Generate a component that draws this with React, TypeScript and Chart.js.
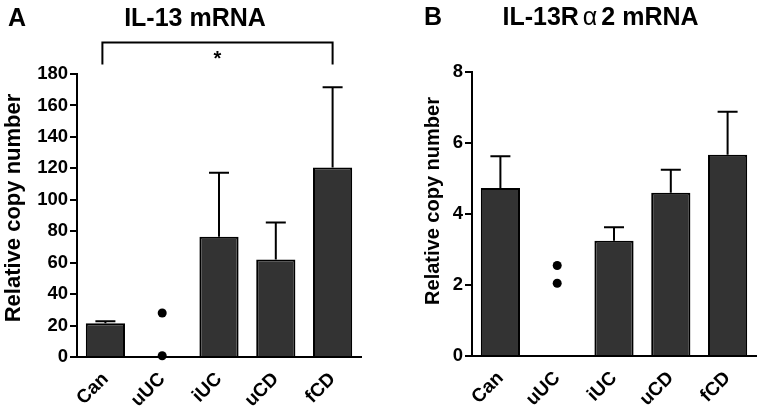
import React, { useEffect, useRef } from 'react';
import { Chart, registerables } from 'chart.js';

Chart.register(...registerables);

// ---------- data ----------
const categories = ['Can', 'uUC', 'iUC', 'uCD', 'fCD'];

const il13Mean = [21.5, null, 76.5, 62, 120.5];
const il13Upper = [22.8, null, 117.2, 85.5, 171.5];
const il13Dots = [28, 0.8];
const il13Axis = { min: 0, max: 180, step: 20 };

const ra2Mean = [4.73, null, 3.25, 4.6, 5.67];
const ra2Upper = [5.63, null, 3.63, 5.25, 6.88];
const ra2Dots = [2.55, 2.05];
const ra2Axis = { min: 0, max: 8, step: 2 };

const dotCategory = 'uUC';
const yTitle = 'Relative copy number';
const sigBracket = { from: 'Can', to: 'fCD', level: 200, leg: 186, label: '*' };

const FONT = 'Arial, "Liberation Sans", sans-serif';

type Panel = {
  letter: string;
  titleParts: { text: string; font: string; gapAfter: number }[];
  titleCenterX: number;
  titleBaseline: number;
  letterX: number;
  mean: (number | null)[];
  upper: (number | null)[];
  dots: number[];
  axis: { min: number; max: number; step: number };
  yAxisWidth: number;
  rightPad: number;
  topPad: number;
  xAxisHeight: number;
  yTitleX: number;
  yTitleY: number;
  yTitleSize: number;
  bracket: boolean;
};

const panels: Panel[] = [
  {
    letter: 'A',
    titleParts: [{ text: 'IL-13 mRNA', font: `bold 25px ${FONT}`, gapAfter: 0 }],
    titleCenterX: 195,
    titleBaseline: 26,
    letterX: 8,
    mean: il13Mean,
    upper: il13Upper,
    dots: il13Dots,
    axis: il13Axis,
    yAxisWidth: 77,
    rightPad: 20,
    topPad: 74,
    xAxisHeight: 54,
    yTitleX: 14,
    yTitleY: 208,
    yTitleSize: 22,
    bracket: true,
  },
  {
    letter: 'B',
    titleParts: [
      { text: 'IL-13R', font: `bold 25px ${FONT}`, gapAfter: 4 },
      { text: 'α', font: `25px ${FONT}`, gapAfter: 4 },
      { text: '2 mRNA', font: `bold 25px ${FONT}`, gapAfter: 0 },
    ],
    titleCenterX: 219.5,
    titleBaseline: 25,
    letterX: 43,
    mean: ra2Mean,
    upper: ra2Upper,
    dots: ra2Dots,
    axis: ra2Axis,
    yAxisWidth: 91,
    rightPad: 6,
    topPad: 72,
    xAxisHeight: 55,
    yTitleX: 52,
    yTitleY: 201,
    yTitleSize: 20,
    bracket: false,
  },
];

function makeDecoPlugin(p: Panel) {
  return {
    id: 'panelDeco',
    afterDatasetsDraw(chart: any) {
      const ctx = chart.ctx;
      const xs = chart.scales.x;
      const ys = chart.scales.y;
      ctx.save();
      ctx.strokeStyle = '#000';
      ctx.lineWidth = 2;
      p.upper.forEach((u, i) => {
        const m = p.mean[i];
        if (u == null || m == null) return;
        const px = xs.getPixelForValue(i);
        const y0 = ys.getPixelForValue(m);
        const y1 = ys.getPixelForValue(u);
        ctx.beginPath();
        ctx.moveTo(px, y0);
        ctx.lineTo(px, y1);
        ctx.moveTo(px - 10, y1);
        ctx.lineTo(px + 10, y1);
        ctx.stroke();
      });
      ctx.restore();
    },
    afterDraw(chart: any) {
      const ctx = chart.ctx;
      const xs = chart.scales.x;
      const ys = chart.scales.y;
      ctx.save();
      ctx.fillStyle = '#000';
      ctx.textBaseline = 'alphabetic';
      // panel letter
      ctx.font = `bold 25px ${FONT}`;
      ctx.textAlign = 'left';
      ctx.fillText(p.letter, p.letterX, p.titleBaseline);
      // title (segments)
      let total = 0;
      p.titleParts.forEach((t) => {
        ctx.font = t.font;
        total += ctx.measureText(t.text).width + t.gapAfter;
      });
      let cx = p.titleCenterX - total / 2;
      p.titleParts.forEach((t) => {
        ctx.font = t.font;
        ctx.fillText(t.text, cx, p.titleBaseline);
        cx += ctx.measureText(t.text).width + t.gapAfter;
      });
      // y title
      ctx.save();
      ctx.translate(p.yTitleX, p.yTitleY);
      ctx.rotate(-Math.PI / 2);
      ctx.font = `bold ${p.yTitleSize}px ${FONT}`;
      ctx.textAlign = 'center';
      ctx.textBaseline = 'middle';
      ctx.fillText(yTitle, 0, 0);
      ctx.restore();
      // significance bracket
      if (p.bracket) {
        const x0 = xs.getPixelForValue(categories.indexOf(sigBracket.from)) - 3;
        const x1 = xs.getPixelForValue(categories.indexOf(sigBracket.to));
        const yl = ys.getPixelForValue(sigBracket.level);
        const yleg = ys.getPixelForValue(sigBracket.leg);
        ctx.strokeStyle = '#000';
        ctx.lineWidth = 2;
        ctx.beginPath();
        ctx.moveTo(x0, yleg);
        ctx.lineTo(x0, yl);
        ctx.lineTo(x1, yl);
        ctx.lineTo(x1, yleg);
        ctx.stroke();
        ctx.font = `bold 20px ${FONT}`;
        ctx.textAlign = 'center';
        ctx.textBaseline = 'alphabetic';
        ctx.fillText(sigBracket.label, (x0 + x1) / 2, yl + 22);
      }
      ctx.restore();
    },
  };
}

function PanelChart({ p, left }: { p: Panel; left: number }) {
  const ref = useRef<HTMLCanvasElement>(null);
  useEffect(() => {
    if (!ref.current) return;
    const chart = new Chart(ref.current, {
      type: 'bar',
      data: {
        labels: categories,
        datasets: [
          {
            type: 'bar',
            data: p.mean as any,
            backgroundColor: '#333333',
            borderColor: '#000000',
            borderWidth: 2,
            barPercentage: 0.69,
            categoryPercentage: 1,
          },
          {
            type: 'line',
            data: p.dots.map((v) => ({ x: dotCategory, y: v })) as any,
            showLine: false,
            pointRadius: 4.5,
            pointBackgroundColor: '#000',
            pointBorderWidth: 0,
            clip: false as any,
          },
        ],
      },
      options: {
        responsive: false,
        animation: false,
        events: [],
        layout: { padding: { left: 0, right: p.rightPad, top: p.topPad, bottom: 0 } },
        plugins: { legend: { display: false }, tooltip: { enabled: false } },
        scales: {
          x: {
            type: 'category',
            offset: true,
            grid: { display: false, drawTicks: false },
            border: { display: true, color: '#000', width: 2 },
            ticks: {
              color: '#000',
              font: { family: FONT, size: 19, weight: 'bold' },
              minRotation: 45,
              maxRotation: 45,
              autoSkip: false,
              padding: 11,
            },
            afterFit: (s: any) => {
              s.height = p.xAxisHeight;
            },
          },
          y: {
            min: p.axis.min,
            max: p.axis.max,
            grid: {
              display: true,
              drawOnChartArea: false,
              drawTicks: true,
              tickLength: 7,
              color: '#000',
              lineWidth: 2,
            },
            border: { display: true, color: '#000', width: 2 },
            ticks: {
              stepSize: p.axis.step,
              color: '#000',
              font: { family: FONT, size: 18.5, weight: 'bold' },
              padding: 2,
            },
            afterFit: (s: any) => {
              s.width = p.yAxisWidth;
            },
          },
        },
      } as any,
      plugins: [makeDecoPlugin(p)],
    });
    return () => chart.destroy();
  }, [p]);
  return (
    <canvas
      ref={ref}
      width={381}
      height={411}
      style={{ position: 'absolute', left, top: 0, width: 381, height: 411 }}
    />
  );
}

export default function App() {
  return (
    <div
      style={{
        position: 'absolute',
        left: 0,
        top: 0,
        width: 762,
        height: 411,
        background: '#fff',
        overflow: 'hidden',
      }}
    >
      <PanelChart p={panels[0]} left={0} />
      <PanelChart p={panels[1]} left={381} />
    </div>
  );
}
